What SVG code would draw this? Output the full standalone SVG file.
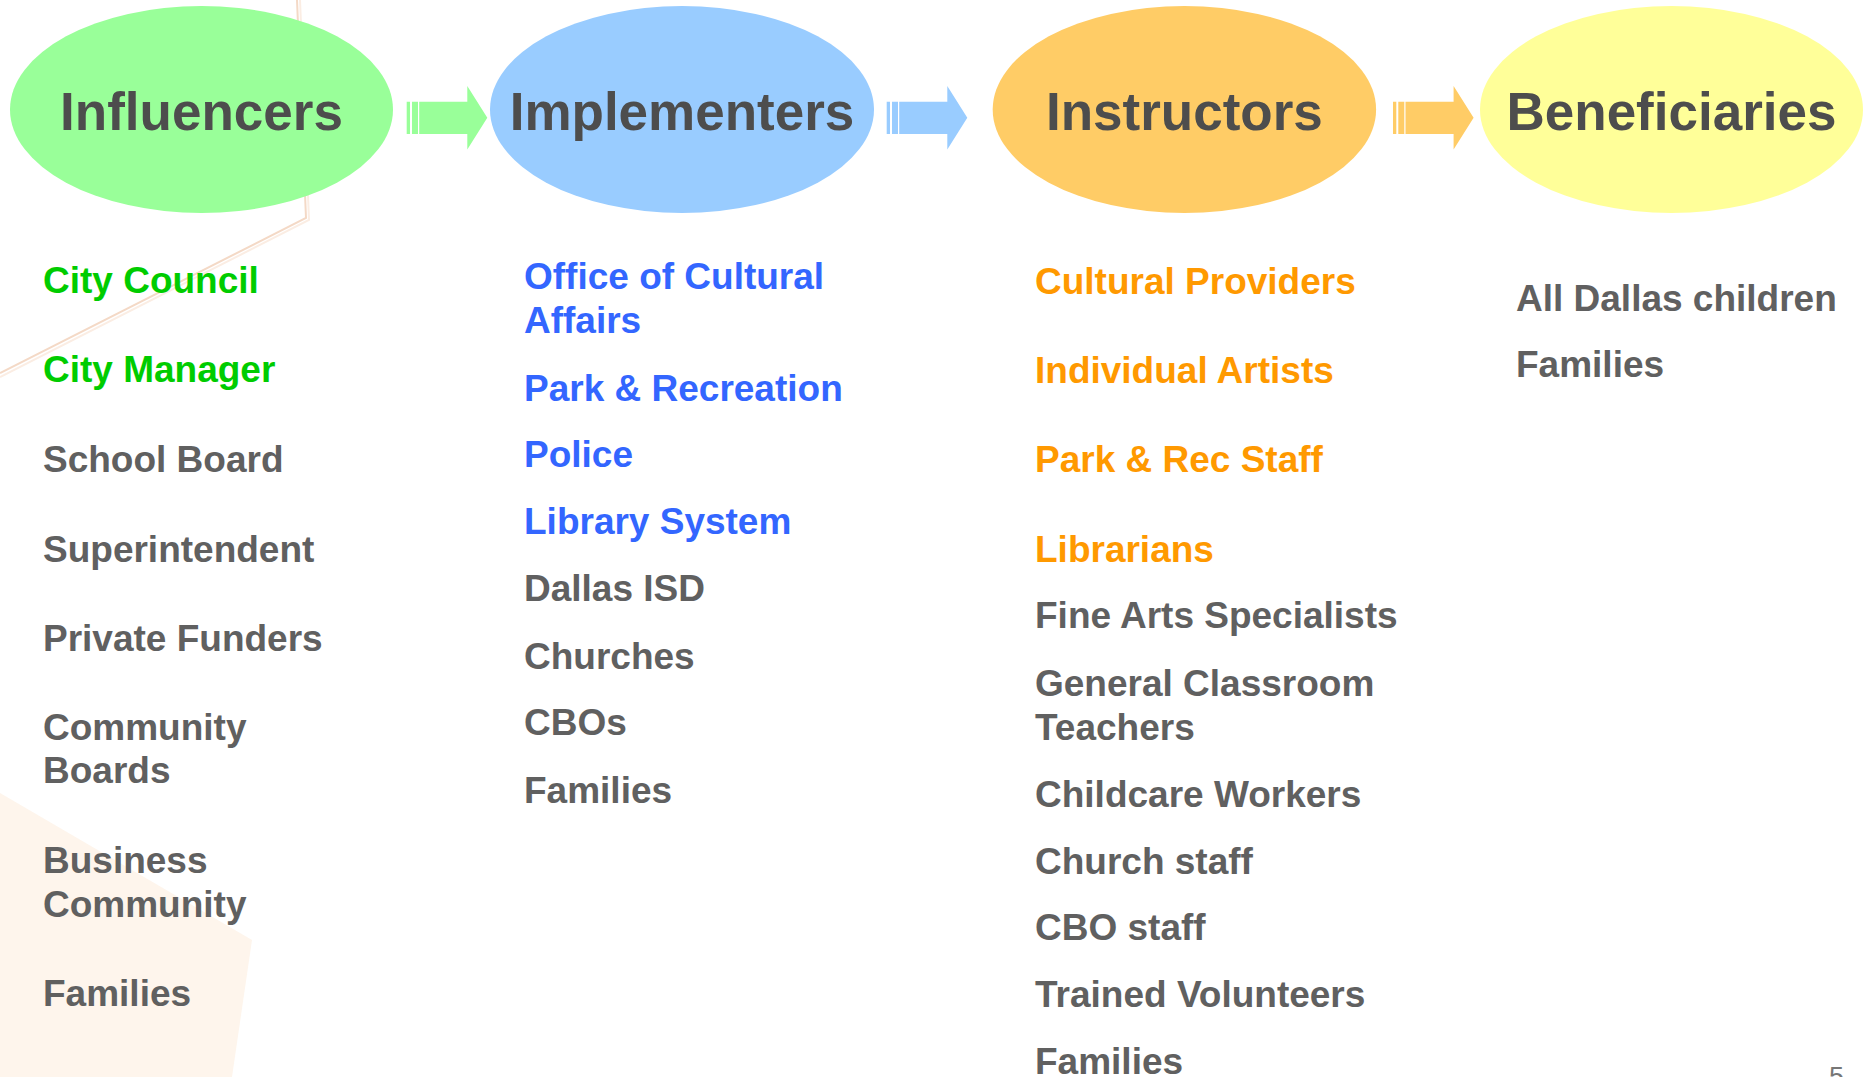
<svg xmlns="http://www.w3.org/2000/svg" xmlns:xlink="http://www.w3.org/1999/xlink" width="1865" height="1077" viewBox="0 0 1865 1077">
<style>
  text { font-family: "Liberation Sans", Arial, sans-serif; font-weight: bold; }
  .title { font-size: 53px; fill: #4D4D4D; text-anchor: middle; }
  .item { font-size: 37px; }
  .gray { fill: #606060; }
  .green { fill: #00CC00; }
  .blue { fill: #3366FF; }
  .orange { fill: #FF9900; }
</style>
<defs>
  <path id="arrow" d="M0,101.7 H3.3 V134 H0 Z M5.3,101.7 H11.3 V134 H5.3 Z M12.5,101.7 H60.6 V86 L80.6,117.8 L60.6,149.5 V134 H12.5 Z"/>
</defs>
<rect width="1865" height="1077" fill="#FFFFFF"/>
<g id="background">
  <path d="M0,793 L252,940 L232,1077 L0,1077 Z" fill="#FEF5EC"/>
  <polyline points="297,0 306,218 0,373" fill="none" stroke="#F4D9C6" stroke-width="2"/>
  <polyline points="300,0 309,220 0,377" fill="none" stroke="#FBEDE3" stroke-width="2"/>
</g>
<g id="connectors">
  <use xlink:href="#arrow" href="#arrow" x="406.7" fill="#99FF99"/>
  <use xlink:href="#arrow" href="#arrow" x="886.7" fill="#99CCFF"/>
  <use xlink:href="#arrow" href="#arrow" x="1393" fill="#FFCC66"/>
</g>
<g id="influencers">
  <ellipse cx="201.5" cy="109.5" rx="191.5" ry="103.5" fill="#99FF99"/>
  <text class="title" x="201.5" y="130">Influencers</text>
  <text class="item green" x="43" y="293">City Council</text>
  <text class="item green" x="43" y="382">City Manager</text>
  <text class="item gray" x="43" y="472">School Board</text>
  <text class="item gray" x="43" y="562">Superintendent</text>
  <text class="item gray" x="43" y="651">Private Funders</text>
  <text class="item gray" x="43" y="740">Community</text>
  <text class="item gray" x="43" y="783">Boards</text>
  <text class="item gray" x="43" y="873">Business</text>
  <text class="item gray" x="43" y="917">Community</text>
  <text class="item gray" x="43" y="1006">Families</text>
</g>
<g id="implementers">
  <ellipse cx="682" cy="109.5" rx="192" ry="103.5" fill="#99CCFF"/>
  <text class="title" x="682" y="130">Implementers</text>
  <text class="item blue" x="524" y="289">Office of Cultural</text>
  <text class="item blue" x="524" y="333">Affairs</text>
  <text class="item blue" x="524" y="401">Park &amp; Recreation</text>
  <text class="item blue" x="524" y="467">Police</text>
  <text class="item blue" x="524" y="534">Library System</text>
  <text class="item gray" x="524" y="601">Dallas ISD</text>
  <text class="item gray" x="524" y="669">Churches</text>
  <text class="item gray" x="524" y="735">CBOs</text>
  <text class="item gray" x="524" y="803">Families</text>
</g>
<g id="instructors">
  <ellipse cx="1184.4" cy="109.5" rx="191.7" ry="103.5" fill="#FFCC66"/>
  <text class="title" x="1184.4" y="130">Instructors</text>
  <text class="item orange" x="1035" y="294">Cultural Providers</text>
  <text class="item orange" x="1035" y="383">Individual Artists</text>
  <text class="item orange" x="1035" y="472">Park &amp; Rec Staff</text>
  <text class="item orange" x="1035" y="562">Librarians</text>
  <text class="item gray" x="1035" y="628">Fine Arts Specialists</text>
  <text class="item gray" x="1035" y="696">General Classroom</text>
  <text class="item gray" x="1035" y="740">Teachers</text>
  <text class="item gray" x="1035" y="807">Childcare Workers</text>
  <text class="item gray" x="1035" y="874">Church staff</text>
  <text class="item gray" x="1035" y="940">CBO staff</text>
  <text class="item gray" x="1035" y="1007">Trained Volunteers</text>
  <text class="item gray" x="1035" y="1074">Families</text>
</g>
<g id="beneficiaries">
  <ellipse cx="1671.5" cy="109.5" rx="191.5" ry="103.5" fill="#FFFF99"/>
  <text class="title" x="1671.5" y="130">Beneficiaries</text>
  <text class="item gray" x="1516" y="311">All Dallas children</text>
  <text class="item gray" x="1516" y="377">Families</text>
</g>
<text x="1829" y="1086" font-size="27" font-weight="normal" fill="#777777" style="font-weight:normal">5</text>
</svg>
